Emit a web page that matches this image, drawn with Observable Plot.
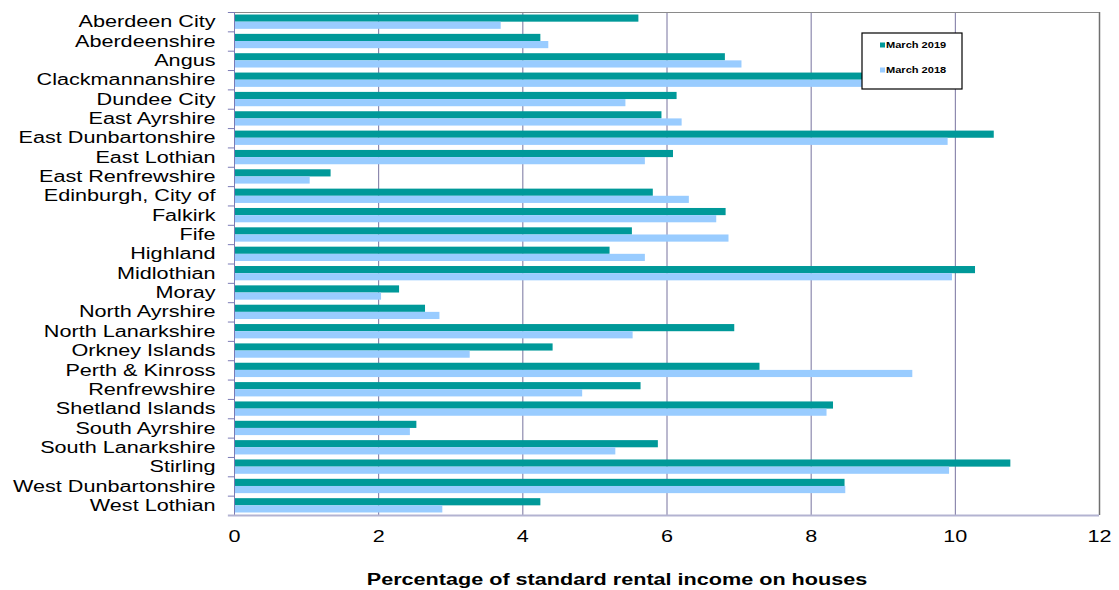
<!DOCTYPE html>
<html><head><meta charset="utf-8">
<script src="https://cdn.jsdelivr.net/npm/d3@7"></script>
<script src="https://cdn.jsdelivr.net/npm/@observablehq/plot@0.6"></script>
<style>body{margin:0;background:#fff;} #chart{width:1119px;height:590px;}</style>
</head><body><div id="chart"></div>
<script>
const regions = ["Aberdeen City","Aberdeenshire","Angus","Clackmannanshire","Dundee City","East Ayrshire","East Dunbartonshire","East Lothian","East Renfrewshire","Edinburgh, City of","Falkirk","Fife","Highland","Midlothian","Moray","North Ayrshire","North Lanarkshire","Orkney Islands","Perth & Kinross","Renfrewshire","Shetland Islands","South Ayrshire","South Lanarkshire","Stirling","West Dunbartonshire","West Lothian"];
const march2019 = [5.61,4.25,6.81,9.0,6.14,5.93,10.54,6.09,1.34,5.81,6.82,5.52,5.21,10.28,2.29,2.65,6.94,4.42,7.29,5.64,8.31,2.53,5.88,10.77,8.47,4.25];
const march2018 = [3.70,4.36,7.04,9.16,5.43,6.21,9.90,5.70,1.05,6.31,6.69,6.86,5.70,9.96,2.04,2.85,5.53,3.27,9.41,4.83,8.22,2.44,5.29,9.92,8.48,2.89];
const xTicks = [0,2,4,6,8,10,12];
const gridValues = [2,4,6,8,10];
const seriesNames = ["March 2019","March 2018"];
const seriesColors = ["#009999","#99ccff"];
const xLabel = "Percentage of standard rental income on houses";

const rows = regions.map((r,i)=>({region:r, v2019: march2019[i], v2018: march2018[i]}));
const W=1119, H=590, mT=12, mB=75, mL=234, mR=20;
const step = (H-mT-mB)/regions.length;
const half = step*0.74/2;
const font = "'Liberation Sans', Arial, sans-serif";

const plot = Plot.plot({
  width: W, height: H, marginTop: mT, marginBottom: mB, marginLeft: mL, marginRight: mR,
  style: {fontFamily: font, fontSize: "16px", color: "#000", background: "#fff"},
  x: {domain: [0,12], ticks: xTicks, tickSize: 0, tickPadding: 15, label: null},
  y: {domain: regions, round: false, paddingInner: 0.26, paddingOuter: 0.13, tickSize: 0, tickPadding: 19, label: null},
  marks: [
    Plot.ruleX(gridValues, {stroke: "#77739f", strokeWidth: 1}),
    Plot.ruleX([12], {stroke: "#6f6f6f", strokeWidth: 1.5}),
    Plot.ruleY([regions[0]], {x1: 0, x2: 12, dy: -step/2, stroke: "#8a8a8a"}),
    Plot.barX(rows, {y: "region", x: "v2019", fill: seriesColors[0], insetBottom: half}),
    Plot.barX(rows, {y: "region", x: "v2018", fill: seriesColors[1], insetTop: half}),
    Plot.ruleY(regions, {y: d => d, x1: -0.085, x2: 0, dy: -step/2, stroke: "#7b7bb5"}),
    Plot.ruleX([0], {stroke: "#7b7bb5"}),
    Plot.ruleY([regions[regions.length-1]], {x1: -0.085, x2: 12, dy: step/2, stroke: "#b3b3d1", strokeWidth: 2}),
    Plot.text([xLabel], {text: d => d, frameAnchor: "bottom", lineAnchor: "middle", dx: -50, dy: 64, fontWeight: "bold", fontSize: 16})
  ]
});
document.getElementById("chart").appendChild(plot);

const svg = d3.select(plot);
const stretch = 1.35;
svg.selectAll("text").each(function(){
  const len = this.getComputedTextLength();
  if (len > 0) {
    this.setAttribute("textLength", (len*stretch).toFixed(1));
    this.setAttribute("lengthAdjust", "spacingAndGlyphs");
  }
});

const lg = svg.append("g").attr("font-family", font).attr("font-weight", "bold").attr("font-size", 8.5).attr("text-anchor", "start");
lg.append("rect").attr("x", 862).attr("y", 33).attr("width", 100).attr("height", 56)
  .attr("fill", "#fff").attr("stroke", "#000").attr("stroke-width", 1.2);
seriesNames.forEach((name, i) => {
  const cy = [45, 70][i];
  lg.append("rect").attr("x", 880).attr("y", cy-2.5).attr("width", 5).attr("height", 5).attr("fill", seriesColors[i]);
  const t = lg.append("text").attr("x", 886).attr("y", cy).attr("dy", "0.35em").attr("fill", "#000").text(name);
  const n = t.node(); const l = n.getComputedTextLength();
  n.setAttribute("textLength", (l*1.3).toFixed(1)); n.setAttribute("lengthAdjust", "spacingAndGlyphs");
});
</script>
</body></html>
